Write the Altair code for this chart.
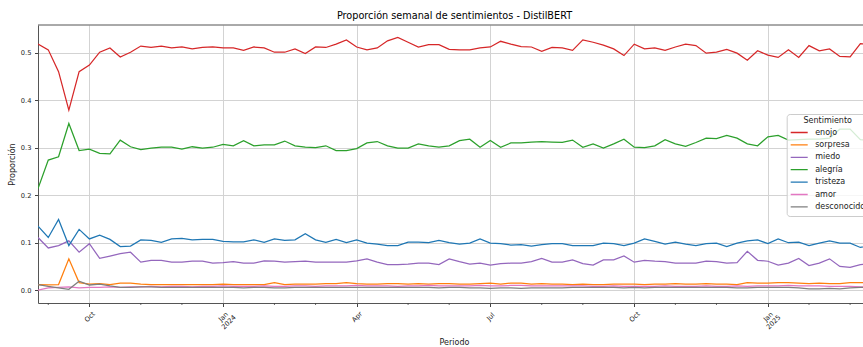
import altair as alt
import pandas as pd

# Weekly sentiment shares (DistilBERT), one value per week starting Monday 2023-08-28
WEEK_START = "2023-08-28"

SENTIMIENTOS = ["enojo", "sorpresa", "miedo", "alegría", "tristeza", "amor", "desconocido"]
COLORES = ["#d62728", "#ff7f0e", "#9467bd", "#2ca02c", "#1f77b4", "#e377c2", "#7f7f7f"]

ENOJO = [
    0.518, 0.506, 0.460, 0.379, 0.460, 0.474, 0.501, 0.510, 0.491, 0.501,
    0.514, 0.511, 0.514, 0.510, 0.512, 0.508, 0.511, 0.512, 0.510, 0.510,
    0.505, 0.512, 0.510, 0.501, 0.501, 0.508, 0.498, 0.512, 0.511, 0.518,
    0.527, 0.512, 0.506, 0.510, 0.525, 0.532, 0.522, 0.512, 0.517, 0.517,
    0.507, 0.506, 0.506, 0.510, 0.512, 0.524, 0.518, 0.513, 0.512, 0.503,
    0.511, 0.510, 0.505, 0.527, 0.522, 0.516, 0.508, 0.494, 0.518, 0.508,
    0.510, 0.505, 0.512, 0.518, 0.515, 0.499, 0.501, 0.507, 0.499, 0.484,
    0.504, 0.495, 0.490, 0.506, 0.490, 0.515, 0.504, 0.508, 0.492, 0.491,
    0.519, 0.518,
]
SORPRESA = [
    0.012, 0.011, 0.012, 0.066, 0.016, 0.013, 0.014, 0.012, 0.015, 0.015,
    0.013, 0.012, 0.012, 0.012, 0.012, 0.012, 0.012, 0.012, 0.013, 0.012,
    0.012, 0.012, 0.012, 0.016, 0.012, 0.013, 0.013, 0.013, 0.014, 0.014,
    0.016, 0.014, 0.013, 0.013, 0.014, 0.014, 0.013, 0.014, 0.013, 0.014,
    0.014, 0.013, 0.013, 0.014, 0.015, 0.013, 0.015, 0.015, 0.013, 0.014,
    0.013, 0.013, 0.012, 0.013, 0.012, 0.012, 0.013, 0.013, 0.013, 0.012,
    0.013, 0.013, 0.014, 0.013, 0.013, 0.014, 0.013, 0.013, 0.012, 0.016,
    0.015, 0.015, 0.016, 0.016, 0.015, 0.014, 0.015, 0.014, 0.014, 0.016,
    0.016, 0.016,
]
MIEDO = [
    0.111, 0.089, 0.094, 0.104, 0.080, 0.098, 0.067, 0.072, 0.077, 0.080,
    0.059, 0.063, 0.063, 0.059, 0.059, 0.061, 0.061, 0.057, 0.058, 0.060,
    0.057, 0.057, 0.062, 0.061, 0.059, 0.060, 0.061, 0.059, 0.059, 0.059,
    0.059, 0.062, 0.066, 0.059, 0.054, 0.054, 0.055, 0.057, 0.057, 0.054,
    0.066, 0.060, 0.055, 0.057, 0.053, 0.056, 0.057, 0.057, 0.060, 0.067,
    0.059, 0.059, 0.064, 0.056, 0.053, 0.064, 0.064, 0.072, 0.059, 0.063,
    0.061, 0.060, 0.057, 0.057, 0.057, 0.061, 0.060, 0.057, 0.058, 0.082,
    0.063, 0.061, 0.053, 0.057, 0.067, 0.052, 0.057, 0.066, 0.050, 0.048,
    0.054, 0.055,
]
ALEGRIA = [
    0.214, 0.274, 0.281, 0.351, 0.294, 0.297, 0.288, 0.287, 0.316, 0.302,
    0.296, 0.299, 0.301, 0.301, 0.297, 0.302, 0.299, 0.301, 0.307, 0.304,
    0.315, 0.304, 0.306, 0.306, 0.314, 0.304, 0.301, 0.300, 0.304, 0.294,
    0.294, 0.298, 0.310, 0.313, 0.304, 0.299, 0.299, 0.308, 0.304, 0.301,
    0.304, 0.315, 0.318, 0.301, 0.315, 0.301, 0.310, 0.310, 0.312, 0.313,
    0.312, 0.311, 0.316, 0.301, 0.308, 0.299, 0.308, 0.318, 0.301, 0.300,
    0.304, 0.317, 0.308, 0.303, 0.311, 0.320, 0.319, 0.326, 0.320, 0.308,
    0.304, 0.323, 0.326, 0.316, 0.317, 0.318, 0.318, 0.320, 0.339, 0.339,
    0.317, 0.315,
]
TRISTEZA = [
    0.135, 0.111, 0.149, 0.094, 0.128, 0.108, 0.116, 0.107, 0.092, 0.093,
    0.106, 0.105, 0.101, 0.108, 0.109, 0.106, 0.107, 0.107, 0.103, 0.102,
    0.102, 0.106, 0.101, 0.108, 0.105, 0.106, 0.119, 0.106, 0.101, 0.107,
    0.100, 0.106, 0.099, 0.097, 0.094, 0.094, 0.101, 0.101, 0.100, 0.105,
    0.100, 0.097, 0.099, 0.108, 0.099, 0.098, 0.095, 0.096, 0.093, 0.096,
    0.098, 0.098, 0.094, 0.094, 0.094, 0.099, 0.098, 0.094, 0.099, 0.108,
    0.103, 0.097, 0.101, 0.097, 0.094, 0.098, 0.099, 0.092, 0.099, 0.104,
    0.106, 0.098, 0.108, 0.100, 0.101, 0.094, 0.099, 0.104, 0.099, 0.099,
    0.090, 0.095,
]
AMOR = [
    0.000, 0.005, 0.006, 0.007, 0.005, 0.006, 0.006, 0.007, 0.006, 0.007,
    0.007, 0.008, 0.007, 0.008, 0.008, 0.007, 0.008, 0.008, 0.009, 0.008,
    0.008, 0.008, 0.009, 0.008, 0.008, 0.009, 0.009, 0.008, 0.009, 0.009,
    0.009, 0.010, 0.009, 0.009, 0.009, 0.008, 0.009, 0.009, 0.010, 0.009,
    0.009, 0.009, 0.009, 0.010, 0.009, 0.009, 0.010, 0.010, 0.009, 0.009,
    0.009, 0.009, 0.009, 0.009, 0.008, 0.008, 0.009, 0.008, 0.008, 0.008,
    0.008, 0.009, 0.008, 0.008, 0.008, 0.009, 0.008, 0.008, 0.009, 0.008,
    0.009, 0.009, 0.009, 0.010, 0.009, 0.009, 0.009, 0.008, 0.008, 0.008,
    0.007, 0.007,
]
DESCONOCIDO = [
    0.012, 0.008, 0.005, 0.002, 0.019, 0.011, 0.013, 0.009, 0.006, 0.006,
    0.007, 0.007, 0.006, 0.006, 0.006, 0.006, 0.006, 0.006, 0.006, 0.006,
    0.005, 0.006, 0.006, 0.005, 0.005, 0.006, 0.006, 0.006, 0.006, 0.006,
    0.006, 0.006, 0.006, 0.006, 0.006, 0.006, 0.006, 0.006, 0.006, 0.005,
    0.006, 0.006, 0.005, 0.005, 0.004, 0.005, 0.005, 0.004, 0.005, 0.005,
    0.005, 0.005, 0.006, 0.006, 0.006, 0.006, 0.006, 0.005, 0.006, 0.005,
    0.006, 0.006, 0.006, 0.006, 0.006, 0.006, 0.006, 0.006, 0.005, 0.005,
    0.006, 0.006, 0.006, 0.006, 0.005, 0.003, 0.003, 0.004, 0.003, 0.005,
    0.006, 0.006,
]

# Major x ticks (first week of each quarter) and their labels
TICK_DATES = ["2023-10-02", "2024-01-01", "2024-04-01", "2024-07-01", "2024-10-07", "2025-01-06"]
TICK_LABELS = ["Oct", "Jan\n2024", "Apr", "Jul", "Oct", "Jan\n2025"]
# Minor x ticks (first week of the remaining months)
MINOR_DATES = [
    "2023-09-04", "2023-11-06", "2023-12-04", "2024-02-05", "2024-03-04",
    "2024-05-06", "2024-06-03", "2024-08-05", "2024-09-02", "2024-11-04",
    "2024-12-02", "2025-02-03", "2025-03-03",
]
Y_TICKS = [0.0, 0.1, 0.2, 0.3, 0.4, 0.5]

SERIES = {
    "enojo": ENOJO, "sorpresa": SORPRESA, "miedo": MIEDO, "alegría": ALEGRIA,
    "tristeza": TRISTEZA, "amor": AMOR, "desconocido": DESCONOCIDO,
}

semanas = pd.date_range(WEEK_START, periods=len(ENOJO), freq="7D")
rows = []
for k, name in enumerate(SENTIMIENTOS):
    for d, v in zip(semanas, SERIES[name]):
        rows.append({"semana": d, "sentimiento": name, "proporcion": v, "orden": k})
df = pd.DataFrame(rows)

# layout (pixels)
PLOT_W, PLOT_H = 825, 278
PX_PER_WEEK = 10.28
visible_end = pd.Timestamp(WEEK_START) + pd.Timedelta(days=7 * PLOT_W / PX_PER_WEEK)


def dt(ts):
    ts = pd.Timestamp(ts)
    return alt.DateTime(year=ts.year, month=ts.month, date=ts.day, hours=ts.hour, minutes=ts.minute)


# label lookup expression built from the tick arrays
label_expr = "''"
for d, lab in zip(reversed(TICK_DATES), reversed(TICK_LABELS)):
    label_expr = f"timeFormat(datum.value, '%Y-%m-%d') == '{d}' ? '{lab.replace(chr(10), '|')}' : ({label_expr})"
label_expr = f"split({label_expr}, '|')"

TXT = "#222222"
x_scale = alt.Scale(domain=[dt(WEEK_START), dt(visible_end)])
y_scale = alt.Scale(domain=[-0.0269, 0.5583], nice=False, zero=False)

x_axis = alt.Axis(
    values=[dt(d) for d in TICK_DATES],
    labelExpr=label_expr,
    labelAngle=-45,
    labelAlign="center",
    labelBaseline="middle",
    labelPadding=10,
    labelFontSize=6.7,
    labelLineHeight=7.5,
    labelColor=TXT,
    labelFlush=False,
    labelOverlap=False,
    tickSize=3.5,
    tickColor="#444444",
    domainColor="#555555",
    gridColor="#d3d3d3",
    gridWidth=1,
    title="Periodo",
    titleFontSize=8,
    titleFontWeight="normal",
    titleColor=TXT,
    titleX=416,
    titleY=39,
    titleBaseline="middle",
)

lines = alt.Chart(df).mark_line(strokeWidth=1.25, clip=True).encode(
    x=alt.X("semana:T", scale=x_scale, axis=x_axis),
    y=alt.Y(
        "proporcion:Q",
        scale=y_scale,
        axis=alt.Axis(
            values=Y_TICKS,
            format=".1f",
            labelFontSize=6.7,
            labelColor=TXT,
            labelPadding=3.5,
            tickSize=3.5,
            tickColor="#444444",
            domainColor="#555555",
            gridColor="#d3d3d3",
            gridWidth=1,
            title="Proporción",
            titleFontSize=8,
            titleFontWeight="normal",
            titleColor=TXT,
            titleX=-26,
            titleY=139,
            titleBaseline="middle",
        ),
    ),
    color=alt.Color(
        "sentimiento:N",
        scale=alt.Scale(domain=SENTIMIENTOS, range=COLORES),
        legend=alt.Legend(
            title="Sentimiento",
            orient="none",
            legendX=748.7,
            legendY=89,
            fillColor="rgba(255,255,255,0.8)",
            strokeColor="#cccccc",
            cornerRadius=3,
            padding=3,
            titleFontSize=8,
            titleFontWeight="normal",
            titleColor=TXT,
            titleAnchor="middle",
            titlePadding=1.5,
            labelFontSize=8,
            labelColor=TXT,
            labelOffset=6.5,
            symbolType="stroke",
            symbolSize=289,
            symbolStrokeWidth=1.3,
            clipHeight=12,
            rowPadding=0.4,
        ),
    ),
    order="orden:Q",
)

# monthly minor ticks under the bottom axis
minor_ticks = alt.Chart(pd.DataFrame({"semana": pd.to_datetime(MINOR_DATES)})).mark_rule(
    color="#444444", strokeWidth=0.8
).encode(
    x=alt.X("semana:T", scale=x_scale, axis=x_axis),
    y=alt.value(PLOT_H),
    y2=alt.value(PLOT_H + 2),
)

top_spine = alt.Chart(pd.DataFrame({"s": [0]})).mark_rule(color="#555555", strokeWidth=1).encode(
    x=alt.value(0), x2=alt.value(PLOT_W), y=alt.value(0)
)

chart = (
    alt.layer(lines, minor_ticks, top_spine)
    .properties(
        width=PLOT_W,
        height=PLOT_H,
        autosize=alt.AutoSizeParams(type="none"),
        padding={"left": 38, "top": 25, "right": 0, "bottom": 44},
        title=alt.Title(
            "Proporción semanal de sentimientos - DistilBERT",
            fontSize=9.7,
            fontWeight="normal",
            color="#000000",
            anchor="middle",
            dx=4,
            offset=3.5,
        ),
        background="white",
    )
    .configure(font="DejaVu Sans")
    .configure_view(stroke=None)
)

chart.save("out.html", embed_options={"renderer": "svg", "actions": False})
